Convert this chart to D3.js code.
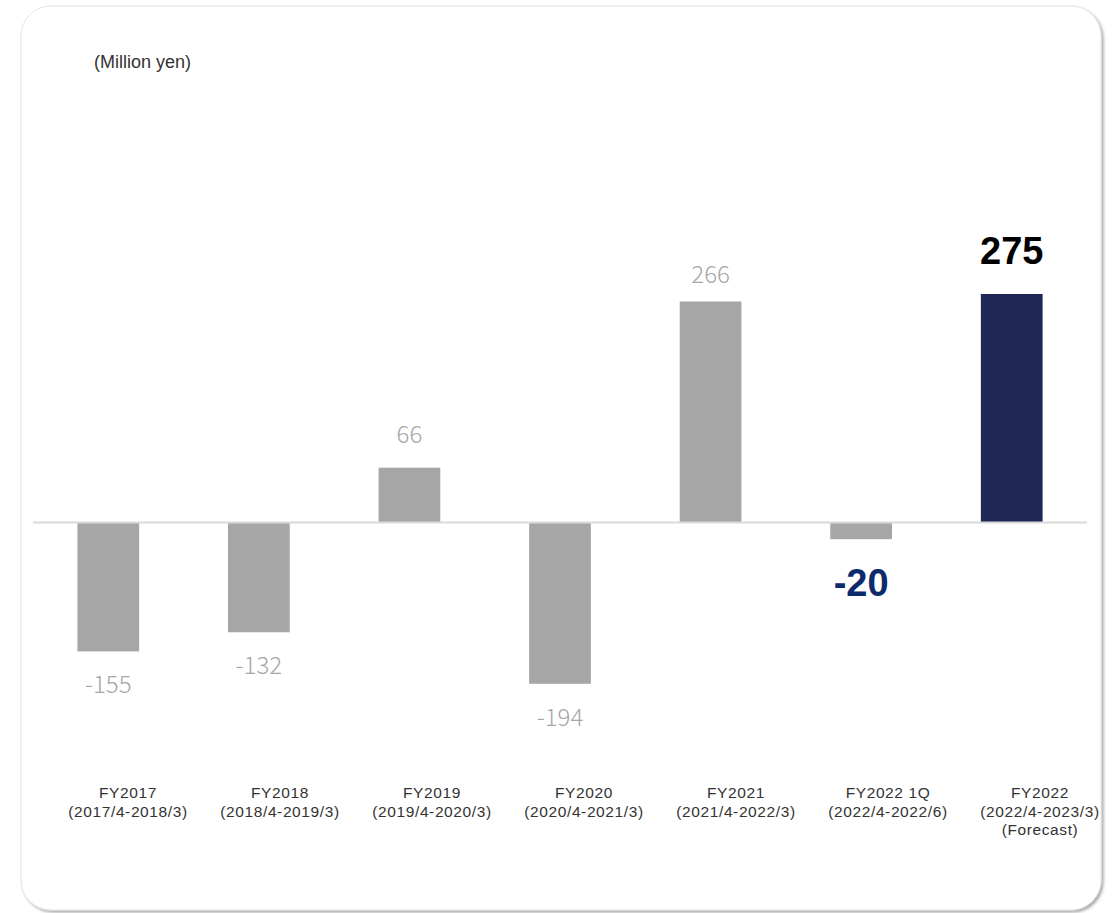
<!DOCTYPE html>
<html>
<head>
<meta charset="utf-8">
<script src="https://cdn.jsdelivr.net/npm/d3@7"></script>
<style>
  html, body { margin: 0; padding: 0; background: #ffffff; }
  svg { display: block; }
</style>
</head>
<body>
<svg id="chart" width="1117" height="913"></svg>
<script>
// Operating profit by fiscal year (million yen)
const periods = ["FY2017", "FY2018", "FY2019", "FY2020", "FY2021", "FY2022 1Q", "FY2022"];
const ranges = ["(2017/4-2018/3)", "(2018/4-2019/3)", "(2019/4-2020/3)", "(2020/4-2021/3)", "(2021/4-2022/3)", "(2022/4-2022/6)", "(2022/4-2023/3)"];
const notes = ["", "", "", "", "", "", "(Forecast)"];
const values = [-155, -132, 66, -194, 266, -20, 275];
const unitLabel = "(Million yen)";

const svg = d3.select("#chart");

// card with soft shadow
const defs = svg.append("defs");
const f = defs.append("filter").attr("id", "shadow")
  .attr("x", "-5%").attr("y", "-5%").attr("width", "110%").attr("height", "110%");
f.append("feDropShadow").attr("dx", 2).attr("dy", 2).attr("stdDeviation", 1.5)
  .attr("flood-color", "#000").attr("flood-opacity", 0.35);

svg.append("rect")
  .attr("x", 21).attr("y", 6).attr("width", 1080).attr("height", 904)
  .attr("rx", 30).attr("ry", 30)
  .attr("fill", "#ffffff").attr("stroke", "#e3e3e3").attr("stroke-width", 1)
  .attr("filter", "url(#shadow)");

svg.append("text")
  .attr("x", 94).attr("y", 68)
  .attr("font-family", "Liberation Sans, Arial, sans-serif")
  .attr("font-size", 18).attr("fill", "#333")
  .text(unitLabel);

const x = d3.scaleBand().domain(periods).range([33, 1087]).paddingInner(0.59).paddingOuter(0.295);
const y = d3.scaleLinear().domain([-194, 275]).range([683.8, 294]);
// category text sits in its own slots, slightly right of the bars
const xLabel = d3.scalePoint().domain(periods).range([128, 1040]);

const data = periods.map((p, i) => ({ p, v: values[i], r: ranges[i], n: notes[i], i }));
const last = periods.length - 1;
const quarter = periods.length - 2;

// bars
svg.append("g").selectAll("rect").data(data).join("rect")
  .attr("x", d => x(d.p))
  .attr("width", x.bandwidth())
  .attr("y", d => y(Math.max(0, d.v)))
  .attr("height", d => Math.abs(y(d.v) - y(0)))
  .attr("fill", d => d.i === last ? "#1e2756" : "#a6a6a6");

// zero line
svg.append("line")
  .attr("x1", 33).attr("x2", 1087)
  .attr("y1", y(0)).attr("y2", y(0))
  .attr("stroke", "#d9d9d9").attr("stroke-width", 2);

// value labels
const emphasised = d => d.i === last || d.i === quarter;
svg.append("g").selectAll("text").data(data).join("text")
  .attr("x", d => x(d.p) + x.bandwidth() / 2)
  .attr("y", d => {
    if (d.i === last) return y(d.v) - 30;
    if (d.i === quarter) return y(d.v) + 57;
    if (d.v >= 0) return y(d.v) - (d.v > 100 ? 18 : 25);
    return y(d.v) + 42;
  })
  .attr("text-anchor", "middle")
  .attr("font-family", d => emphasised(d) ? "Liberation Sans, Arial, sans-serif" : "Noto Sans CJK JP, sans-serif")
  .attr("font-weight", d => emphasised(d) ? 700 : 300)
  .attr("font-size", d => emphasised(d) ? 38 : 24)
  .attr("fill", d => d.i === last ? "#000000" : d.i === quarter ? "#0d2a6b" : "#a6a6a6")
  .text(d => d3.format("d")(d.v).replace("−", "-"));

// category labels, three stacked lines each
const lineY = [798, 816.5, 835];
const cat = svg.append("g")
  .attr("font-family", "Liberation Sans, Arial, sans-serif")
  .attr("font-size", 15.5).attr("letter-spacing", 0.6).attr("fill", "#333")
  .attr("text-anchor", "middle");
[d => d.p, d => d.r, d => d.n].forEach((acc, k) => {
  cat.append("g").selectAll("text").data(data.filter(d => acc(d))).join("text")
    .attr("x", d => xLabel(d.p))
    .attr("y", lineY[k])
    .text(acc);
});
</script>
</body>
</html>
